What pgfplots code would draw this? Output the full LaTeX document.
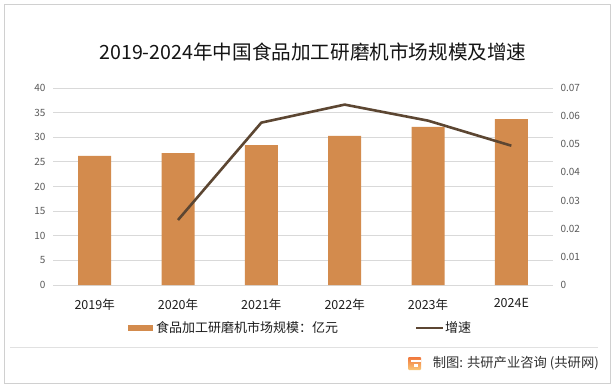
\documentclass[border=0pt]{standalone}
\usepackage{pgfplots}
\pgfplotsset{compat=1.18}
\usepackage{fontspec}
\setmainfont{Noto Sans CJK SC}
\definecolor{barc}{RGB}{211,139,77}
\definecolor{linec}{RGB}{92,70,50}
\definecolor{gridc}{RGB}{217,217,217}
\definecolor{tickc}{RGB}{89,89,89}
\begin{document}
\begin{tikzpicture}[x=1bp,y=1bp]
\useasboundingbox (0,0) rectangle (615,388);
\fill[white] (0,0) rectangle (615,388);
\draw[line width=1bp, draw={rgb,255:red,208;green,208;blue,208}] (4.5,5) rectangle (610,383.5);
\node[font=\fontsize{19.6bp}{24bp}\selectfont, text={rgb,255:red,20;green,20;blue,20}] at (313,336) {2019-2024年中国食品加工研磨机市场规模及增速};
\begin{axis}[
  at={(53bp,103bp)}, anchor=south west,
  width=500bp, height=197bp, scale only axis,
  xmin=-0.5, xmax=5.5, ymin=0, ymax=40,
  ytick={0,5,...,40},
  xtick={0,1,2,3,4,5},
  xticklabels={2019年,2020年,2021年,2022年,2023年,\raisebox{3bp}{2024E}},
  axis line style={draw=none},
  major tick length=0pt,
  ymajorgrids, grid style={draw=gridc, line width=0.8bp},
  /pgf/number format/assume math mode=true,
  yticklabel style={font=\fontsize{10bp}{12bp}\selectfont, text=tickc, xshift=-4bp},
  xticklabel style={font=\fontsize{12.5bp}{14bp}\selectfont, text={rgb,255:red,30;green,30;blue,30}, yshift=-10bp},
  ybar, bar width=33bp,
  clip=false,
]
\addplot[fill=barc, draw=none] coordinates {(0,26.2) (1,26.8) (2,28.4) (3,30.3) (4,32.1) (5,33.7)};
\end{axis}
\begin{axis}[
  at={(53bp,103bp)}, anchor=south west,
  width=500bp, height=197bp, scale only axis,
  xmin=-0.5, xmax=5.5, ymin=0, ymax=0.07,
  ytick={0,0.01,0.02,0.03,0.04,0.05,0.06,0.07},
  yticklabels={0,0.01,0.02,0.03,0.04,0.05,0.06,0.07},
  scaled y ticks=false,
  axis y line*=right, axis x line=none,
  axis line style={draw=none},
  major tick length=0pt,
  /pgf/number format/assume math mode=true,
  yticklabel style={font=\fontsize{10bp}{12bp}\selectfont, text=tickc, xshift=4bp},
  clip=false,
]
\addplot[linec, line width=2.6bp, line join=round] coordinates {(1,0.0231) (2,0.0577) (3,0.0641) (4,0.0584) (5,0.0495)};
\end{axis}
% legend
\fill[barc] (128,57) rectangle (153,63.5);
\node[anchor=west, inner sep=0, font=\fontsize{13bp}{15bp}\selectfont, text={rgb,255:red,30;green,30;blue,30}] at (156,60) {食品加工研磨机市场规模：亿元};
\draw[linec, line width=2.6bp] (416,60) -- (443,60);
\node[anchor=west, inner sep=0, font=\fontsize{13bp}{15bp}\selectfont, text={rgb,255:red,30;green,30;blue,30}] at (445,60) {增速};
% separator and footer
\draw[line width=0.8bp, draw={rgb,255:red,225;green,225;blue,225}] (10,41) -- (598,41);
\shade[top color={rgb,255:red,240;green,120;blue,60}, bottom color={rgb,255:red,250;green,200;blue,120}, rounded corners=1bp] (408,31) rectangle (421,18);
\fill[white] (411,26.5) rectangle (421,28.5);
\fill[white] (414,21) rectangle (418,24.5);
\node[anchor=east, inner sep=0, font=\fontsize{13.3bp}{15bp}\selectfont, text={rgb,255:red,50;green,50;blue,50}] at (599,25) {制图: 共研产业咨询 (共研网)};
\end{tikzpicture}
\end{document}
